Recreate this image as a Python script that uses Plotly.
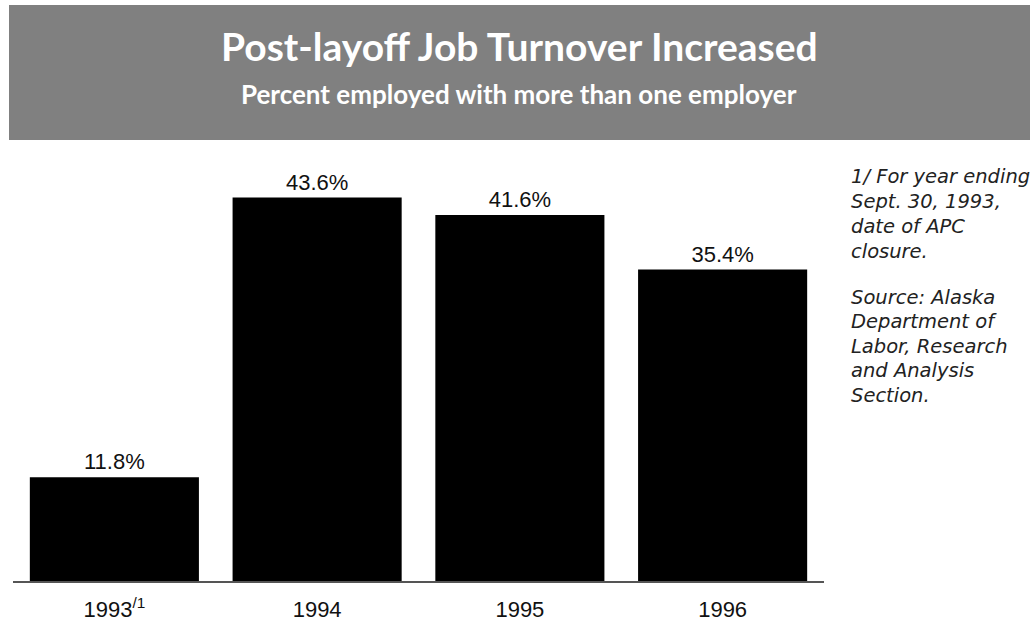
import plotly.graph_objects as go

# Share of laid-off workers employed with more than one employer
years = ["1993<sup>/1</sup>", "1994", "1995", "1996"]
pct_multiple_employers = [11.8, 43.6, 41.6, 35.4]

title_text = "Post-layoff Job Turnover Increased"
subtitle_text = "Percent employed with more than one employer"
footnote_lines = ["1/ For year ending", "Sept. 30, 1993,", "date of APC", "closure."]
source_lines = ["Source: Alaska", "Department of", "Labor, Research", "and Analysis", "Section."]

W, H = 1035, 622
M_L, M_R, M_T, M_B = 13, 211, 150, 41
PLOT_W = W - M_L - M_R
PLOT_H = H - M_T - M_B


def px_x(px):
    """Pixel column -> paper x."""
    return (px - M_L) / PLOT_W


def px_y(py):
    """Pixel row (from top) -> paper y."""
    return (H - M_B - py) / PLOT_H


fig = go.Figure(
    go.Bar(
        x=years,
        y=pct_multiple_employers,
        marker=dict(color="#000000", line=dict(width=0)),
        texttemplate="%{y:.1f}%",
        textposition="outside",
        textfont=dict(family="Liberation Sans, Arial, sans-serif", size=22, color="#111111"),
        cliponaxis=False,
        hoverinfo="skip",
    )
)

# grey header banner
fig.add_shape(
    type="rect", xref="paper", yref="paper",
    x0=px_x(9), x1=px_x(1030), y0=px_y(140), y1=px_y(5),
    fillcolor="#808080", line=dict(width=0), layer="below",
)

fig.add_annotation(
    text=f"<b>{title_text}</b>", xref="paper", yref="paper",
    x=px_x(519), y=px_y(46), xanchor="center", yanchor="middle",
    showarrow=False, font=dict(family="Lato, sans-serif", size=39, color="#ffffff"),
)
fig.add_annotation(
    text=f"<b>{subtitle_text}</b>", xref="paper", yref="paper",
    x=px_x(519), y=px_y(94), xanchor="center", yanchor="middle",
    showarrow=False, font=dict(family="Lato, sans-serif", size=26, color="#ffffff"),
)


def add_note_block(lines, top_px, step_px):
    """Stack italic note lines down the right-hand margin."""
    for i, line in enumerate(lines):
        fig.add_annotation(
            text=f"<i>{line}</i>", xref="paper", yref="paper",
            x=px_x(849), y=px_y(top_px + step_px * i), xanchor="left", yanchor="middle",
            showarrow=False, align="left",
            font=dict(family="DejaVu Sans, sans-serif", size=19.5, color="#222222"),
        )


add_note_block(footnote_lines, 176, 25)
add_note_block(source_lines, 297, 24.6)

fig.update_layout(
    width=W, height=H,
    margin=dict(l=M_L, r=M_R, t=M_T, b=M_B, pad=0),
    paper_bgcolor="#ffffff", plot_bgcolor="#ffffff",
    bargap=0.166,
    showlegend=False,
    xaxis=dict(
        showgrid=False, zeroline=False, automargin=False,
        showline=True, linecolor="#555555", linewidth=2,
        ticks="", ticklabelstandoff=8,
        tickfont=dict(family="Liberation Sans, Arial, sans-serif", size=22, color="#111111"),
    ),
    yaxis=dict(
        range=[0, 49], visible=False, showgrid=False, zeroline=False,
        automargin=False,
    ),
)

fig.write_html("out.html")
